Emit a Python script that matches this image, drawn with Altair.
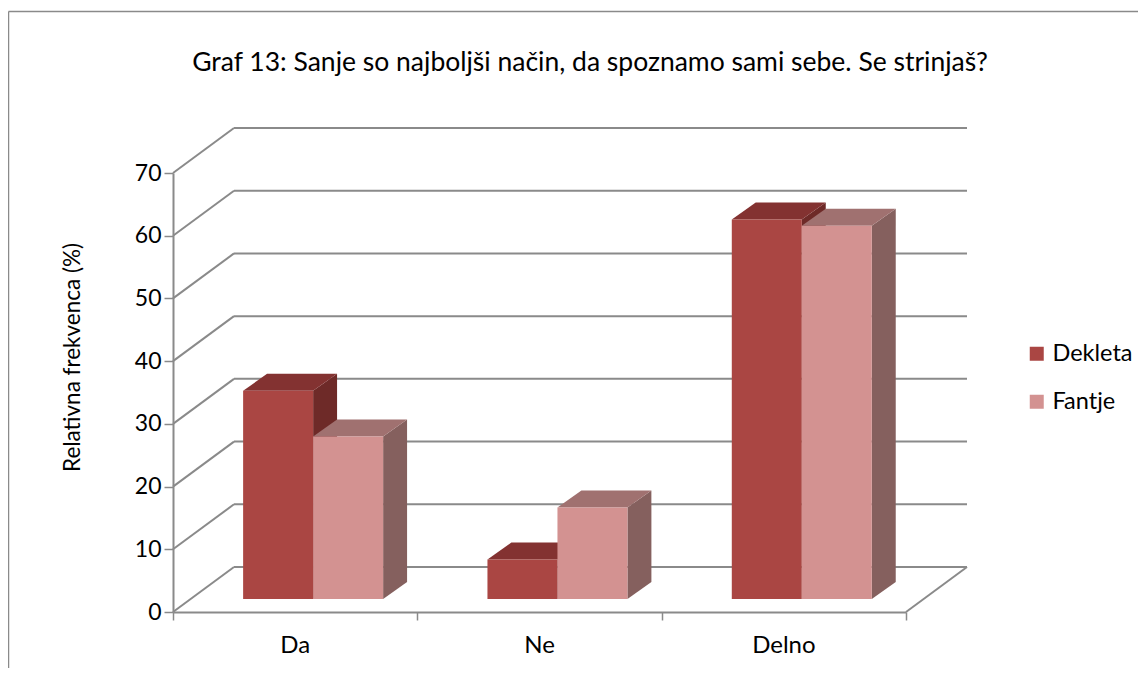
import altair as alt
import pandas as pd

# ---- data ----
categories = ["Da", "Ne", "Delno"]
series = ["Dekleta", "Fantje"]
dekleta = [33.2, 6.3, 60.5]
fantje = [25.9, 14.6, 59.5]
y_ticks = [0, 10, 20, 30, 40, 50, 60, 70]
x_bounds = [0, 1, 2, 3]
title_text = "Graf 13: Sanje so najboljši način, da spoznamo sami sebe. Se strinjaš?"
y_title = "Relativna frekvenca (%)"

# ---- style constants ----
FONT = "Lato"
GRID = "#8a8a8a"
FRONT = ["#AA4643", "#D39291"]
TOP = ["#833231", "#A07170"]
SIDE = ["#6E2A28", "#85605E"]
GROUP_START = 0.287   # bar group start inside a category slot (x units)
BAR_W = 0.2865        # bar width (x units)
DX = 0.098            # bar depth, x units
DY = 2.71             # bar depth, y units
BASE = 2.07           # bar floor lift due to depth (y units)
WALL_DX = 61          # back-wall offset in px
WALL_DY = -45

rows_front, rows_side, rows_top = [], [], []
for i, cat in enumerate(categories):
    for s, (name, vals) in enumerate(zip(series, [dekleta, fantje])):
        v = vals[i]
        x0 = i + GROUP_START + s * BAR_W
        x1 = x0 + BAR_W
        bid = f"{cat}-{name}"
        rows_front.append(dict(bar=bid, series=name, x=x0, x2=x1, y=BASE, y2=BASE + v))
        rows_side += [dict(bar=bid, series=name, x=x1, y=BASE, y2=BASE + v),
                      dict(bar=bid, series=name, x=x1 + DX, y=BASE + DY, y2=BASE + v + DY)]
        rows_top += [dict(bar=bid, series=name, y=BASE + v, x=x0, x2=x1),
                     dict(bar=bid, series=name, y=BASE + v + DY, x=x0 + DX, x2=x1 + DX)]

df_front = pd.DataFrame(rows_front)
df_side = pd.DataFrame(rows_side)
df_top = pd.DataFrame(rows_top)
df_grid = pd.DataFrame({"v": y_ticks, "x0": x_bounds[0], "x1": x_bounds[-1]})
df_floor = pd.DataFrame({"v": [y_ticks[0]], "x0": [x_bounds[-1]]})
df_cats = pd.DataFrame({"cat": categories, "xc": [i + 0.5 for i in range(len(categories))],
                        "yb": y_ticks[0]})
df_one = pd.DataFrame({"t": [title_text]})

xs = alt.Scale(domain=[x_bounds[0], x_bounds[-1]], nice=False, zero=False)
ys = alt.Scale(domain=[y_ticks[0], y_ticks[-1]], nice=False, zero=False)

x_axis = alt.Axis(values=x_bounds, labels=False, title="", grid=False,
                  domainColor=GRID, domainWidth=2, tickColor=GRID, tickWidth=1.5, tickSize=8)
y_axis = alt.Axis(values=y_ticks, title=y_title, grid=False,
                  domainColor=GRID, domainWidth=2, tickColor=GRID, tickWidth=1.5, tickSize=9,
                  labelFont=FONT, labelFontSize=23, labelColor="black", labelPadding=3,
                  titleFont=FONT, titleFontSize=22.5, titleFontWeight="normal", titleColor="black",
                  titleAngle=-90, titleX=-101, titleY=184, titleAlign="center", titleBaseline="middle")


def X(field):
    return alt.X(field, scale=xs, axis=x_axis)


def Y(field):
    return alt.Y(field, scale=ys, axis=y_axis)


# back wall gridlines
back = alt.Chart(df_grid).mark_rule(color=GRID, strokeWidth=2, xOffset=WALL_DX, x2Offset=WALL_DX,
                                    yOffset=WALL_DY).encode(
    x=X("x0:Q"), x2="x1:Q", y=Y("v:Q"),
)
# left side-wall diagonals
diag = alt.Chart(df_grid).mark_rule(color=GRID, strokeWidth=2, x2Offset=WALL_DX, y2Offset=WALL_DY).encode(
    x=X("x0:Q"), x2="x0:Q", y=Y("v:Q"), y2="v:Q",
)
# floor right edge
floor = alt.Chart(df_floor).mark_rule(color=GRID, strokeWidth=2, x2Offset=WALL_DX, y2Offset=WALL_DY).encode(
    x=X("x0:Q"), x2="x0:Q", y=Y("v:Q"), y2="v:Q",
)

sides = alt.Chart(df_side).mark_area(orient="vertical", opacity=1).encode(
    x=X("x:Q"), y=Y("y:Q"), y2="y2:Q",
    detail="bar:N",
    color=alt.Color("series:N", scale=alt.Scale(domain=series, range=SIDE), legend=None),
)
tops = alt.Chart(df_top).mark_area(orient="horizontal", opacity=1).encode(
    y=Y("y:Q"), x=X("x:Q"), x2="x2:Q",
    detail="bar:N",
    color=alt.Color("series:N", scale=alt.Scale(domain=series, range=TOP), legend=None),
)
fronts = alt.Chart(df_front).mark_rect().encode(
    x=X("x:Q"), x2="x2:Q", y=Y("y:Q"), y2="y2:Q",
    color=alt.Color("series:N", scale=alt.Scale(domain=series, range=FRONT),
                    legend=alt.Legend(title=None, orient="none", legendX=852, legendY=169,
                                      symbolType="square", symbolSize=196, symbolStrokeWidth=0,
                                      labelFont=FONT, labelFontSize=23.5, labelColor="black",
                                      rowPadding=23, labelOffset=4, padding=0)),
)

cat_labels = alt.Chart(df_cats).mark_text(font=FONT, fontSize=24, color="black", baseline="middle",
                                          dy=34).encode(
    x=X("xc:Q"), y=Y("yb:Q"), text="cat:N",
)

title_mark = alt.Chart(df_one).mark_text(font=FONT, fontSize=26.5, color="black", baseline="middle",
                                         align="center").encode(
    x=alt.value(417), y=alt.value(-110), text="t:N")

border_left = alt.Chart(df_one).mark_rule(color=GRID, strokeWidth=1.5).encode(
    x=alt.value(-164.5), y=alt.value(-161.5), y2=alt.value(520))
border_top = alt.Chart(df_one).mark_rule(color=GRID, strokeWidth=1.5).encode(
    x=alt.value(-164.5), x2=alt.value(1000), y=alt.value(-161.5))

chart = alt.layer(
    back, diag, floor, sides, tops, fronts, cat_labels, title_mark, border_left, border_top
).resolve_scale(color="independent").properties(
    width=733, height=439,
    background="white",
    autosize=alt.AutoSizeParams(type="none"),
    padding={"left": 165, "top": 165, "right": 232, "bottom": 56},
).configure_view(stroke="transparent", strokeWidth=0)

chart.save("out.html", embed_options={"renderer": "svg", "actions": False})
